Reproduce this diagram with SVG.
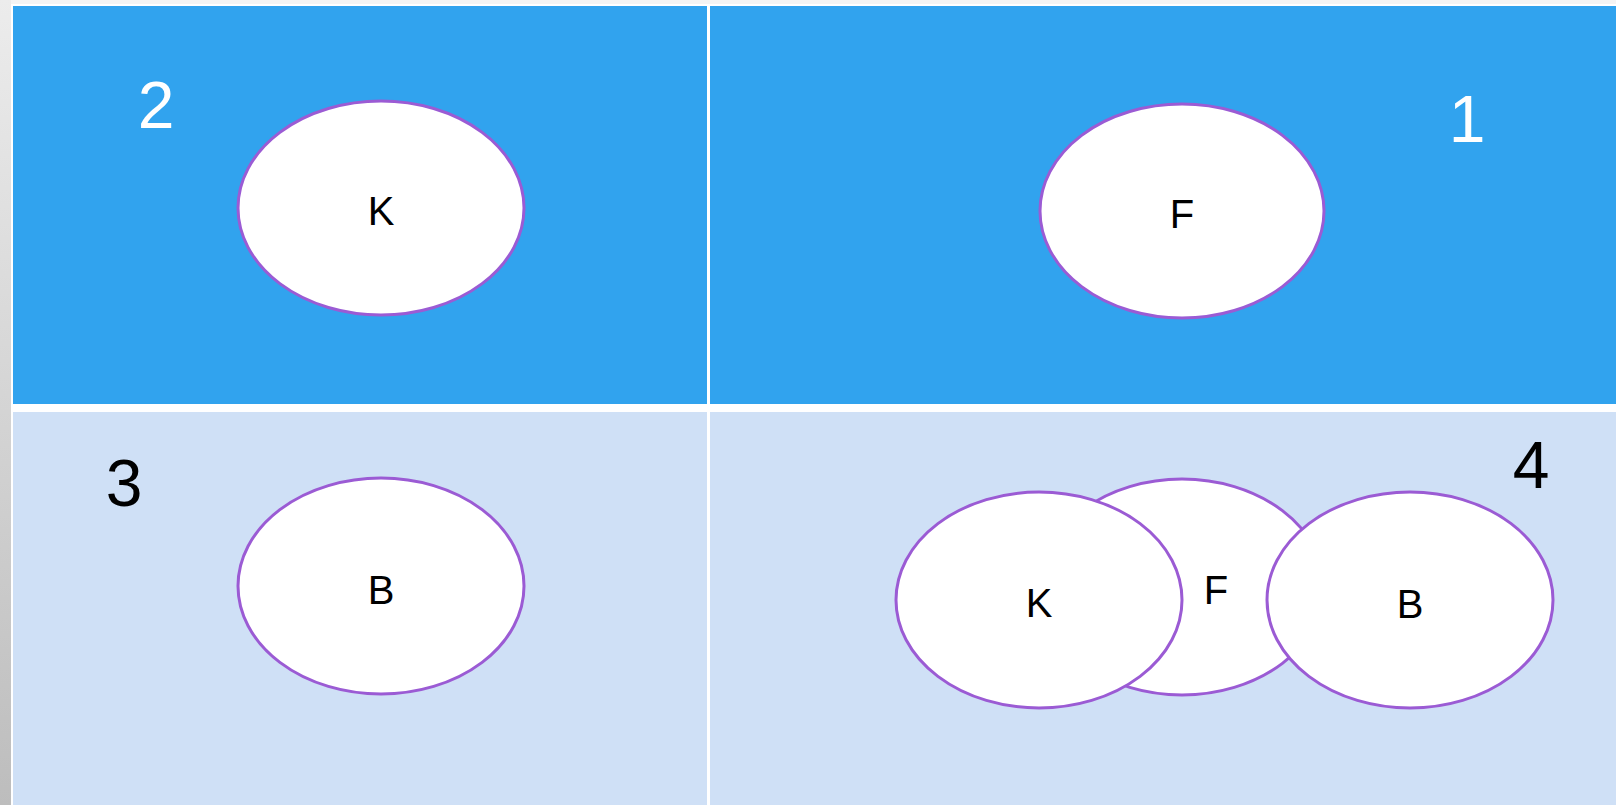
<svg xmlns="http://www.w3.org/2000/svg" width="1616" height="805" viewBox="0 0 1616 805">
  <defs>
    <linearGradient id="strip" x1="0" y1="0" x2="0" y2="1">
      <stop offset="0" stop-color="#ececec"/>
      <stop offset="1" stop-color="#bdbdbd"/>
    </linearGradient>
    <style>
      .oval { fill: #ffffff; stroke: #9b5bd4; stroke-width: 3; }
      .lbl { font-family: "Liberation Sans", Arial, sans-serif; font-size: 40px; fill: #000; text-anchor: middle; }
      .num { font-family: "Liberation Sans", Arial, sans-serif; font-size: 66px; text-anchor: middle; }
    </style>
  </defs>
  <rect x="0" y="0" width="1616" height="805" fill="#f4f4f4"/>
  <rect x="0" y="0" width="11" height="805" fill="url(#strip)"/>
  <rect x="11" y="4" width="1605" height="801" fill="#ffffff"/>
  <!-- quadrants -->
  <g id="panel-1-top-left"><rect x="13" y="6" width="694" height="398" fill="#31a3ee"/></g>
  <g id="panel-2-top-right"><rect x="710" y="6" width="906" height="398" fill="#31a3ee"/></g>
  <g id="panel-3-bottom-left"><rect x="13" y="412" width="694" height="393" fill="#cfe0f6"/></g>
  <g id="panel-4-bottom-right"><rect x="710" y="412" width="906" height="393" fill="#cfe0f6"/></g>

  <text class="num" x="156" y="128" fill="#ffffff">2</text>
  <text class="num" x="1467" y="142" fill="#ffffff">1</text>
  <text class="num" x="124" y="506" fill="#000000">3</text>
  <text class="num" x="1531" y="488" fill="#000000">4</text>

  <g id="node-k-top">
    <ellipse class="oval" cx="381" cy="208" rx="143" ry="107"/>
    <text class="lbl" x="381" y="225">K</text>
  </g>
  <g id="node-f-top">
    <ellipse class="oval" cx="1182" cy="211" rx="142" ry="107"/>
    <text class="lbl" x="1182" y="228">F</text>
  </g>
  <g id="node-b-left">
    <ellipse class="oval" cx="381" cy="586" rx="143" ry="108"/>
    <text class="lbl" x="381" y="604">B</text>
  </g>
  <g id="node-f-bottom">
    <ellipse class="oval" cx="1182" cy="587" rx="142" ry="108"/>
    <text class="lbl" x="1216" y="604">F</text>
  </g>
  <g id="node-k-bottom">
    <ellipse class="oval" cx="1039" cy="600" rx="143" ry="108"/>
    <text class="lbl" x="1039" y="617">K</text>
  </g>
  <g id="node-b-bottom">
    <ellipse class="oval" cx="1410" cy="600" rx="143" ry="108"/>
    <text class="lbl" x="1410" y="618">B</text>
  </g>
  <g id="connectors"></g>
</svg>
